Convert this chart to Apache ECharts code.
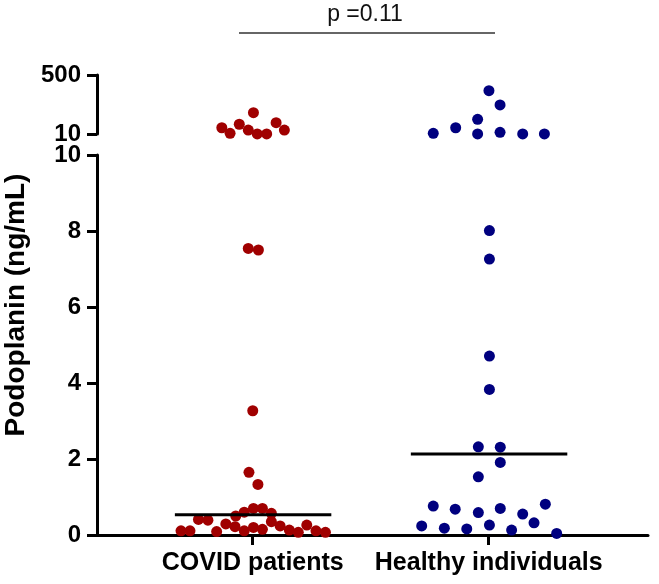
<!DOCTYPE html>
<html>
<head>
<meta charset="utf-8">
<script src="https://cdn.jsdelivr.net/npm/echarts@6/dist/echarts.min.js"></script>
<style>
  html, body { margin: 0; padding: 0; background: #fff; }
  #chart { width: 659px; height: 584px; }
</style>
</head>
<body>
<div id="chart"></div>
<script>
// groups on the x axis
var categories = ["COVID patients", "Healthy individuals"];

// Podoplanin (ng/mL), one dot per subject; values above 10 go on the upper (broken) segment
var covidValues = [
  187, 62, 16, 91, 43, 11, 11, 104, 43,
  7.54, 7.50,
  3.27, 1.65, 1.33,
  0.70, 0.70, 0.60, 0.57, 0.50, 0.41, 0.39, 0.29, 0.35, 0.24, 0.26,
  0.22, 0.20, 0.15, 0.11, 0.11, 0.11, 0.09, 0.13, 0.07, 0.11, 0.07
];
// horizontal spread of the dots (beeswarm offset from the group centre)
var covidJitter = [
  0.003, -0.131, -0.096, -0.057, -0.019, 0.019, 0.059, 0.099, 0.134,
  -0.019, 0.024,
  0.0, -0.016, 0.022,
  0.003, 0.041, -0.036, 0.079, -0.072, -0.23, -0.19, -0.114, 0.079, 0.116, 0.229,
  -0.075, 0.003, 0.041, -0.036, -0.304, -0.266, -0.153, 0.155, 0.193, 0.268, 0.308
];

var healthyValues = [
  370, 251, 132, 16, 62, 11, 24, 11, 11,
  8.01, 7.26, 4.71, 3.83,
  2.32, 2.31, 1.91, 1.53,
  0.76, 0.68, 0.59, 0.70, 0.55, 0.81, 0.32,
  0.24, 0.18, 0.16, 0.26, 0.13, 0.04
];
var healthyJitter = [
  0.001, 0.048, -0.047, -0.235, -0.140, -0.047, 0.048, 0.144, 0.236,
  0.003, 0.003, 0.003, 0.003,
  -0.044, 0.049, 0.049, -0.044,
  -0.235, -0.142, -0.044, 0.049, 0.144, 0.240, 0.192,
  -0.284, -0.188, -0.093, 0.003, 0.097, 0.288
];

// horizontal line per group
var medians = [0.53, 2.13];

// axis ticks
var upperTicks = [10, 500];
var lowerMin = 0, lowerMax = 10, lowerStep = 2;
var breakAt = 10;
var pText = "p =0.11";

var colors = ["#a00000", "#00007f"];

function points(values, jitter, groupIdx, upper) {
  var out = [];
  for (var i = 0; i < values.length; i++) {
    var isUp = values[i] > breakAt;
    if (isUp === upper) out.push([groupIdx + 1 + jitter[i], values[i]]);
  }
  return out;
}

var font = "'Liberation Sans', Arial, sans-serif";
var axisStyle = { lineStyle: { color: "#000", width: 3 } };
var tickStyle = { show: true, length: 10, lineStyle: { color: "#000", width: 3 } };
var labelStyle = { color: "#000", fontSize: 24, fontWeight: "bold", fontFamily: font, margin: 16 };

var xMin = 0.34, xMax = 2.675;

var series = [];
[[covidValues, covidJitter], [healthyValues, healthyJitter]].forEach(function (g, gi) {
  series.push({
    type: "scatter", xAxisIndex: 0, yAxisIndex: 0, clip: false,
    symbolSize: 11, itemStyle: { color: colors[gi], opacity: 1 },
    data: points(g[0], g[1], gi, true)
  });
  series.push({
    type: "scatter", xAxisIndex: 1, yAxisIndex: 1, clip: false,
    symbolSize: 11, itemStyle: { color: colors[gi], opacity: 1 },
    data: points(g[0], g[1], gi, false)
  });
});
medians.forEach(function (m, gi) {
  series.push({
    type: "line", xAxisIndex: 1, yAxisIndex: 1, z: 5,
    symbol: "none", silent: true,
    lineStyle: { color: "#000", width: 3 },
    data: [[gi + 1 - 0.33, m], [gi + 1 + 0.333, m]]
  });
});

var myChart = echarts.init(document.getElementById("chart"));
myChart.setOption({
  backgroundColor: "#fff",
  animation: false,
  grid: [
    { left: 97, right: 11, top: 75, height: 59 },
    { left: 97, right: 11, top: 155, height: 380 }
  ],
  xAxis: [
    { gridIndex: 0, type: "value", min: xMin, max: xMax, show: false },
    {
      gridIndex: 1, type: "value", min: xMin, max: xMax,
      splitLine: { show: false },
      axisLine: { show: true, onZero: false, lineStyle: { color: "#000", width: 3 } },
      axisTick: { show: true, length: 10, customValues: [1, 2], lineStyle: { color: "#000", width: 3 } },
      axisLabel: {
        customValues: [1, 2], color: "#000", fontSize: 25, fontWeight: "bold",
        fontFamily: font, margin: 16,
        formatter: function (v) { return categories[Math.round(v) - 1]; }
      }
    }
  ],
  yAxis: [
    {
      gridIndex: 0, type: "value", min: upperTicks[0], max: upperTicks[1],
      splitLine: { show: false },
      axisLine: axisStyle,
      axisTick: Object.assign({ customValues: upperTicks }, tickStyle),
      axisLabel: Object.assign({ customValues: upperTicks }, labelStyle)
    },
    {
      gridIndex: 1, type: "value", min: lowerMin, max: lowerMax, interval: lowerStep,
      splitLine: { show: false },
      axisLine: { show: true, lineStyle: { color: "#000", width: 3 } },
      axisTick: tickStyle,
      axisLabel: labelStyle
    }
  ],
  graphic: [
    {
      type: "text", x: 16, y: 305, rotation: Math.PI / 2,
      style: {
        text: "Podoplanin (ng/mL)", fill: "#000", font: "bold 28px " + font,
        align: "center", verticalAlign: "middle"
      }
    },
    {
      type: "line",
      shape: { x1: 239, y1: 33, x2: 495, y2: 33 },
      style: { stroke: "#333", lineWidth: 1.5 }
    },
    {
      type: "text", x: 365, y: 15,
      style: {
        text: pText, fill: "#111", font: "23px " + font,
        align: "center", verticalAlign: "middle"
      }
    }
  ],
  series: series
});
</script>
</body>
</html>
